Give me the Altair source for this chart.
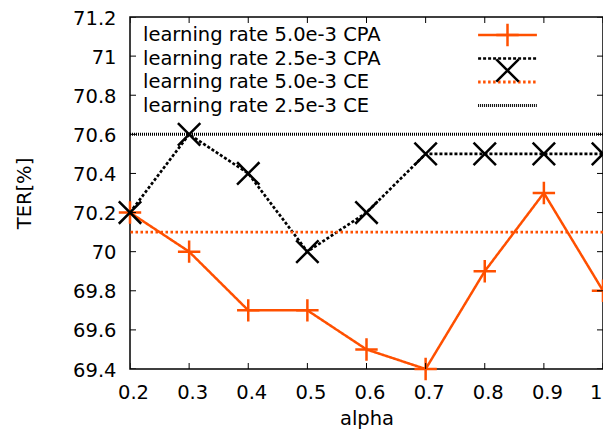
import altair as alt
import pandas as pd

# ---- data ----
alpha = [0.2, 0.3, 0.4, 0.5, 0.6, 0.7, 0.8, 0.9, 1.0]
ter_lr50_cpa = [70.2, 70.0, 69.7, 69.7, 69.5, 69.4, 69.9, 70.3, 69.8]
ter_lr25_cpa = [70.2, 70.6, 70.4, 70.0, 70.2, 70.5, 70.5, 70.5, 70.5]
ter_lr50_ce = 70.1
ter_lr25_ce = 70.6
series = [
    "learning rate 5.0e-3 CPA",
    "learning rate 2.5e-3 CPA",
    "learning rate 5.0e-3 CE",
    "learning rate 2.5e-3 CE",
]
x_ticks = [0.2, 0.3, 0.4, 0.5, 0.6, 0.7, 0.8, 0.9, 1.0]
y_ticks = [69.4, 69.6, 69.8, 70.0, 70.2, 70.4, 70.6, 70.8, 71.0, 71.2]

ORANGE = "#ff5000"
BLACK = "#000000"
FONT = "DejaVu Sans"
FS = 19.5

df_cpa = pd.DataFrame(
    {
        "alpha": alpha + alpha,
        "TER": ter_lr50_cpa + ter_lr25_cpa,
        "series": [series[0]] * len(alpha) + [series[1]] * len(alpha),
    }
)
df_cpa["mseries"] = df_cpa["series"]
df_ce = pd.DataFrame({"TER": [ter_lr50_ce, ter_lr25_ce], "series": [series[2], series[3]]})
df_xt = pd.DataFrame({"alpha": x_ticks})
df_yt = pd.DataFrame({"TER": y_ticks})

x_scale = alt.Scale(domain=[x_ticks[0], x_ticks[-1]], nice=False, zero=False)
y_scale = alt.Scale(domain=[y_ticks[0], y_ticks[-1]], nice=False, zero=False)

x_axis = alt.Axis(
    values=x_ticks, format="~g", ticks=False, domain=False, grid=False,
    labelFont=FONT, labelFontSize=FS, labelColor="black", labelPadding=14.5,
    labelFlush=False, labelOverlap=False,
    labelOffset={"expr": "datum.value >= 1 ? -1 : 3"},
    labelAlign={"expr": "datum.value >= 1 ? 'right' : 'center'"},
    title="alpha", titleFont=FONT, titleFontSize=FS, titleFontWeight="normal",
    titleColor="black", titleY=55, titleBaseline="alphabetic",
)
y_axis = alt.Axis(
    values=y_ticks, format="~g", ticks=False, domain=False, grid=False,
    labelFont=FONT, labelFontSize=FS, labelColor="black", labelPadding=14,
    labelFlush=False, labelOverlap=False, labelOffset=1,
    title="TER[%]", titleFont=FONT, titleFontSize=FS, titleFontWeight="normal",
    titleColor="black", titleX=-100, titleY=176, titleAlign="center",
    titleBaseline="alphabetic", titleAngle=270,
)

color_scale = alt.Scale(domain=series, range=[ORANGE, BLACK, ORANGE, BLACK])
dash_scale = alt.Scale(domain=series, range=[[1, 0], [3, 2], [2.5, 2.5], [1, 1]])
sw_scale = alt.Scale(domain=series, range=[2.5, 3, 2.5, 1.5])

LEG_X = 367.75
LEG_Y = 8.25
LABEL_OFF = {"expr": "-374.25"}

legend_lines = alt.Legend(
    orient="none", legendX=LEG_X, legendY=LEG_Y, title=None,
    symbolType="M-4.2,0H4.2", symbolSize=196, symbolStrokeWidth=2,
    labelAlign="left", labelOffset=LABEL_OFF, labelFont=FONT, labelFontSize=FS,
    labelColor="black", labelLimit=400, rowPadding=2.5, padding=0,
)
legend_marks = alt.Legend(
    orient="none", legendX=LEG_X, legendY=LEG_Y, title=None,
    symbolSize=196, symbolStrokeWidth=2.5,
    labelAlign="left", labelOffset=LABEL_OFF, labelFont=FONT, labelFontSize=FS,
    labelOpacity=0, labelLimit=400, rowPadding=2.5, padding=0,
)

X = alt.X("alpha:Q", scale=x_scale, axis=x_axis)
Y = alt.Y("TER:Q", scale=y_scale, axis=y_axis)

lines = alt.Chart(df_cpa).mark_line().encode(
    x=X, y=Y,
    color=alt.Color("series:N", scale=color_scale, legend=legend_lines),
    strokeDash=alt.StrokeDash("series:N", scale=dash_scale, legend=legend_lines),
    strokeWidth=alt.StrokeWidth("series:N", scale=sw_scale, legend=None),
)

points = alt.Chart(df_cpa).mark_point(filled=False, size=196, strokeWidth=2.5, opacity=1).encode(
    x=X, y=Y,
    stroke=alt.Stroke("mseries:N", scale=alt.Scale(domain=series[:2], range=[ORANGE, BLACK]), legend=legend_marks),
    shape=alt.Shape(
        "mseries:N",
        scale=alt.Scale(
            domain=series[:2],
            range=["M-1.6,0H1.6M0,-1.6V1.6", "M-1.6,-1.6L1.6,1.6M-1.6,1.6L1.6,-1.6"],
        ),
        legend=legend_marks,
    ),
)

rules = alt.Chart(df_ce).mark_rule().encode(
    y=Y,
    color=alt.Color("series:N", scale=color_scale, legend=legend_lines),
    strokeDash=alt.StrokeDash("series:N", scale=dash_scale, legend=legend_lines),
    strokeWidth=alt.StrokeWidth("series:N", scale=sw_scale, legend=None),
)

tick_style = dict(color="black", thickness=1, size=12, clip=True, opacity=1)
xt_bottom = alt.Chart(df_xt).mark_tick(orient="vertical", **tick_style).encode(
    x=X, y=alt.Y(datum=y_ticks[0], scale=y_scale, axis=y_axis))
xt_top = alt.Chart(df_xt).mark_tick(orient="vertical", **tick_style).encode(
    x=X, y=alt.Y(datum=y_ticks[-1], scale=y_scale, axis=y_axis))
yt_left = alt.Chart(df_yt).mark_tick(orient="horizontal", **tick_style).encode(
    y=Y, x=alt.X(datum=x_ticks[0], scale=x_scale, axis=x_axis))
yt_right = alt.Chart(df_yt).mark_tick(orient="horizontal", **tick_style).encode(
    y=Y, x=alt.X(datum=x_ticks[-1], scale=x_scale, axis=x_axis))

chart = (
    alt.layer(lines, points, rules, xt_bottom, xt_top, yt_left, yt_right)
    .properties(
        width=473, height=352,
        padding={"left": 122, "top": 9, "right": 0, "bottom": 60},
        autosize=alt.AutoSizeParams(type="none"),
        background="white",
    )
    .configure_view(stroke="black", strokeWidth=1.5)
)

chart.save("out.html", embed_options={"renderer": "svg", "actions": False})
